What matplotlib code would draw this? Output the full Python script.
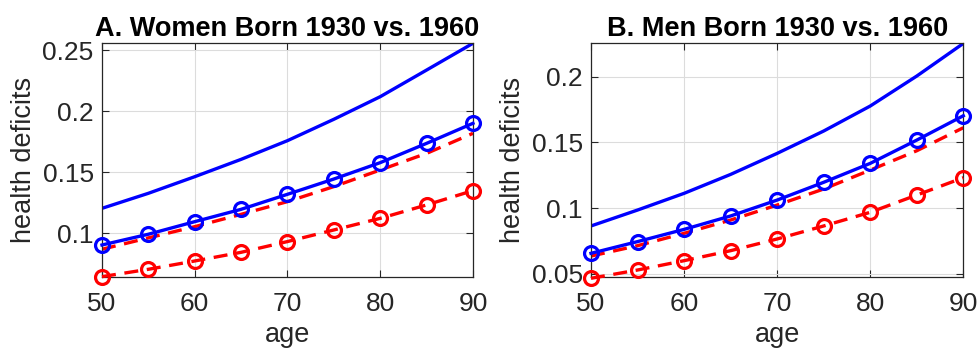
import numpy as np
import matplotlib
matplotlib.use('Agg')
import matplotlib.pyplot as plt

# %% Data:

age = [50, 55, 60, 65, 70, 75, 80, 85, 90]

# Women
w_blue_line = [0.1204, 0.1327, 0.1463, 0.1605, 0.1758, 0.1933, 0.2118, 0.2336, 0.2555]
w_blue_circ = [0.0904, 0.0992, 0.1095, 0.1196, 0.1319, 0.1444, 0.1578, 0.1736, 0.1900]
w_red_line = [0.0869, 0.0962, 0.1054, 0.1155, 0.1259, 0.1382, 0.1518, 0.1654, 0.1818]
w_red_circ = [0.0645, 0.0705, 0.0773, 0.0844, 0.0932, 0.1027, 0.1122, 0.1232, 0.1349]

# Men
m_blue_line = [0.0865, 0.0986, 0.1113, 0.1257, 0.1417, 0.1587, 0.1777, 0.2005, 0.2253]
m_blue_circ = [0.0657, 0.0746, 0.0839, 0.0941, 0.1062, 0.1197, 0.1341, 0.1518, 0.1703]
m_red_line = [0.0636, 0.0715, 0.0809, 0.0910, 0.1024, 0.1146, 0.1290, 0.1437, 0.1612]
m_red_circ = [0.0467, 0.0530, 0.0601, 0.0677, 0.0766, 0.0865, 0.0969, 0.1100, 0.1232]

titles = ['A. Women Born 1930 vs. 1960', 'B. Men Born 1930 vs. 1960']
yticks_w = [0.1, 0.15, 0.2, 0.25]
ytick_labels_w = ['0.1', '0.15', '0.2', '0.25']
yticks_m = [0.05, 0.1, 0.15, 0.2]
ytick_labels_m = ['0.05', '0.1', '0.15', '0.2']
xticks = [50, 60, 70, 80, 90]

# %% Figure:

plt.rcParams['font.family'] = ['Liberation Sans', 'DejaVu Sans']
dark = '#262626'

fig = plt.figure(figsize=(9.77, 3.5), dpi=100)
ax1 = fig.add_axes([0.1044, 0.2086, 0.3797, 0.6677])
ax2 = fig.add_axes([0.6049, 0.2086, 0.3811, 0.6677])

panels = [
    (ax1, w_blue_line, w_blue_circ, w_red_line, w_red_circ,
     (0.0642, 0.2555), yticks_w, ytick_labels_w, titles[0]),
    (ax2, m_blue_line, m_blue_circ, m_red_line, m_red_circ,
     (0.0477, 0.2254), yticks_m, ytick_labels_m, titles[1]),
]

for ax, bl, bc, rl, rc, ylim, yt, ytl, title in panels:
    lw = 2.4
    ax.plot(age, bl, color='#0000ff', lw=lw)
    ax.plot(age, bc, color='#0000ff', lw=lw, marker='o', ms=10,
            mfc='none', mew=2.3, clip_on=False, zorder=4)
    ax.plot(age, rl, color='#ff0000', lw=lw, dashes=(4.2, 2.6))
    ax.plot(age, rc, color='#ff0000', lw=lw, dashes=(4.2, 2.6), marker='o',
            ms=10, mfc='none', mew=2.3, clip_on=False, zorder=3)
    ax.set_xlim(50, 90)
    ax.set_ylim(*ylim)
    ax.set_xticks(xticks)
    ax.set_yticks(yt)
    ax.set_yticklabels(ytl)
    ax.grid(True, color='#dcdcdc', lw=0.8)
    ax.set_axisbelow(True)
    ax.tick_params(direction='in', length=5, width=0.8, colors=dark,
                   labelsize=19, top=True, right=True)
    ax.tick_params(axis='x', pad=11)
    ax.tick_params(axis='y', pad=6)
    for sp in ax.spines.values():
        sp.set_color(dark)
        sp.set_linewidth(0.9)
    ax.set_xlabel('age', fontsize=19.5, color=dark, labelpad=4)
    ax.set_ylabel('health deficits', fontsize=19.5, color=dark, labelpad=4)
    ax.set_title(title, fontsize=19.5, fontweight='bold', pad=5)

fig.savefig('out.png', dpi=100)
